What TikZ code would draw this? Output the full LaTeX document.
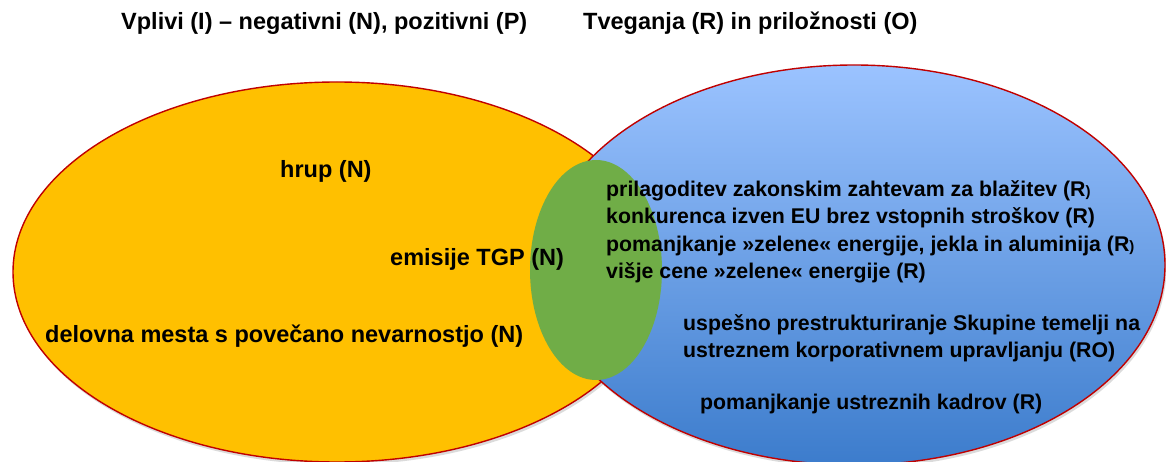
\documentclass[tikz,border=0pt]{standalone}
\usepackage{fontspec}
\setmainfont{Liberation Sans}
\usetikzlibrary{shadows}
\definecolor{orangefill}{RGB}{255,192,0}
\definecolor{edgered}{RGB}{192,0,0}
\definecolor{greenfill}{RGB}{112,173,71}
\definecolor{bluetop}{RGB}{155,195,255}
\definecolor{bluebot}{RGB}{60,124,204}
\tikzset{
  lbl/.style={anchor=base west, inner sep=0pt, font=\bfseries\fontsize{23.5}{27}\selectfont, text=black},
  rlbl/.style={lbl, font=\bfseries\fontsize{21.3}{26}\selectfont},
  setedge/.style={draw=edgered, line width=1.4pt},
  shd/.style={drop shadow={opacity=0.28, shadow xshift=1.5pt, shadow yshift=-3pt}},
}
\newcommand{\smallpar}{{\fontsize{15}{15}\selectfont)}}
\begin{document}
\begin{tikzpicture}[x=1pt,y=-1pt]
\useasboundingbox (0,0) rectangle (1166,462);
\clip (0,0) rectangle (1166,462);
\fill[white] (0,0) rectangle (1166,462);
% sets
\draw[setedge, fill=orangefill, shd] (337,272) ellipse [x radius=324, y radius=190];
\draw[setedge, top color=bluetop, bottom color=bluebot, shd] (854,265) ellipse [x radius=311, y radius=200];
\fill[greenfill] (596,270) ellipse [x radius=66, y radius=110];
% titles
\node[lbl] (t1) at (121,30) {Vplivi (I) – negativni (N), pozitivni (P)};
\node[lbl] (t2) at (583,30) {Tveganja (R) in priložnosti (O)};
% left set
\node[lbl] (hrup) at (280,177.5) {hrup (N)};
\node[lbl] (tgp) at (390,265.5) {emisije TGP (N)};
\node[lbl] (delo) at (45,342) {delovna mesta s povečano nevarnostjo (N)};
% right set
\node[rlbl] (r1) at (606,196.5) {prilagoditev zakonskim zahtevam za blažitev (R\smallpar};
\node[rlbl] (r2) at (606,224) {konkurenca izven EU brez vstopnih stroškov (R)};
\node[rlbl] (r3) at (606,251.5) {pomanjkanje »zelene« energije, jekla in aluminija (R\smallpar};
\node[rlbl] (r4) at (606,278.5) {višje cene »zelene« energije (R)};
\node[rlbl] (r5) at (683,330.5) {uspešno prestrukturiranje Skupine temelji na};
\node[rlbl] (r6) at (683,357) {ustreznem korporativnem upravljanju (RO)};
\node[rlbl] (r7) at (700,409) {pomanjkanje ustreznih kadrov (R)};
\end{tikzpicture}
\end{document}
